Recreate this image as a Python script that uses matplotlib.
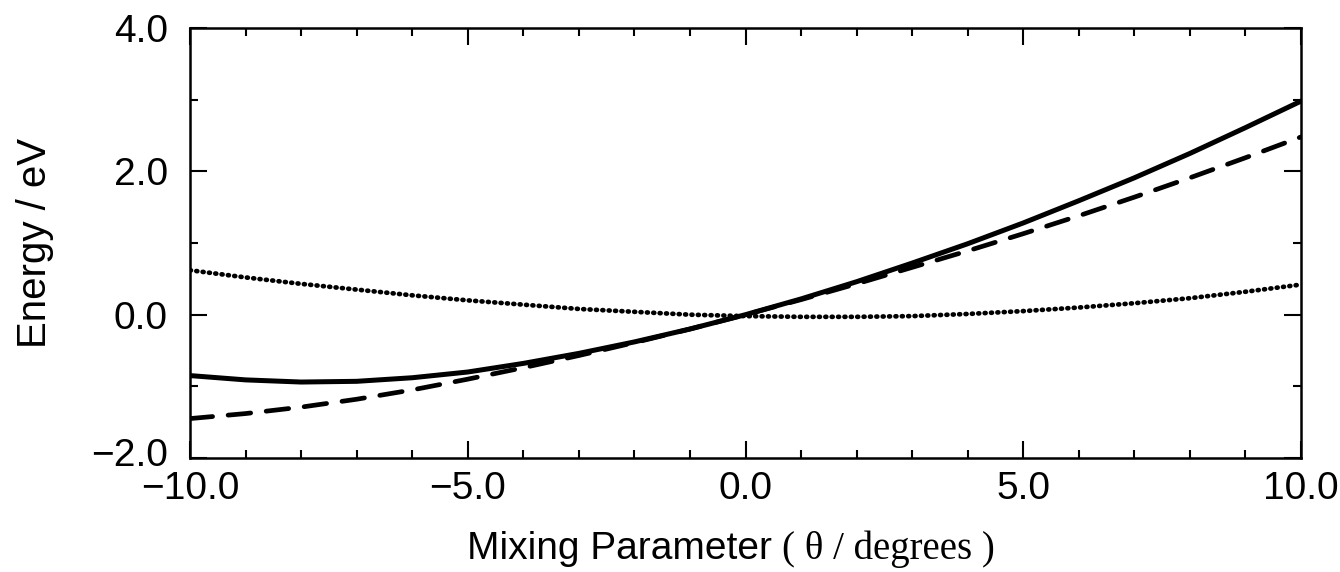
import numpy as np
import matplotlib
matplotlib.use("Agg")
import matplotlib.pyplot as plt
import matplotlib.transforms as mtransforms
from matplotlib.ticker import MultipleLocator, FuncFormatter
from matplotlib.offsetbox import TextArea, HPacker, AnchoredOffsetbox
from matplotlib import font_manager

theta = [-10, -9, -8, -7, -6, -5, -4, -3, -2, -1, 0, 1, 2, 3, 4, 5, 6, 7, 8, 9, 10]
solid_energy = [-0.85, -0.91, -0.94, -0.93, -0.88, -0.80, -0.68, -0.54, -0.38, -0.20, 0.0,
                0.22, 0.46, 0.72, 0.99, 1.28, 1.59, 1.91, 2.25, 2.61, 2.98]
dashed_energy = [-1.45, -1.38, -1.29, -1.18, -1.05, -0.90, -0.74, -0.57, -0.39, -0.20, 0.0,
                 0.21, 0.43, 0.66, 0.89, 1.13, 1.38, 1.64, 1.91, 2.19, 2.48]
dotted_energy = [0.62, 0.52, 0.43, 0.35, 0.27, 0.20, 0.14, 0.08, 0.04, 0.0, -0.02,
                 -0.03, -0.03, -0.02, 0.01, 0.05, 0.10, 0.16, 0.23, 0.32, 0.42]

names = {f.name for f in font_manager.fontManager.ttflist}
sans = "Liberation Sans" if "Liberation Sans" in names else "DejaVu Sans"
serif = "Liberation Serif" if "Liberation Serif" in names else "DejaVu Serif"

plt.rcParams['font.family'] = [sans, 'DejaVu Sans']

fig = plt.figure(figsize=(13.4, 5.72), dpi=100)
ax = fig.add_axes([0.1418, 0.1993, 0.9709 - 0.1418, 0.951 - 0.1993])

ax.plot(theta, solid_energy, color='black', lw=3.6, solid_capstyle='round')
ax.plot(theta, dashed_energy, color='black', lw=3.4, linestyle=(0, (4.8, 3.3)), dash_capstyle='round')
ax.plot(theta, dotted_energy, color='black', lw=3.4, linestyle=(0, (0.2, 1.15)), dash_capstyle='round')

def fmt(v, pos):
    s = "%.1f" % abs(v)
    return ("\u2212" + s) if v < -1e-9 else s

ax.set_xlim(-10, 10)
ax.set_ylim(-2, 4)
ax.xaxis.set_major_locator(MultipleLocator(5))
ax.xaxis.set_minor_locator(MultipleLocator(1))
ax.yaxis.set_major_locator(MultipleLocator(2))
ax.yaxis.set_minor_locator(MultipleLocator(1))
ax.xaxis.set_major_formatter(FuncFormatter(fmt))
ax.yaxis.set_major_formatter(FuncFormatter(fmt))
ax.tick_params(which='both', direction='in', top=True, right=True, width=1.5, colors='black')
ax.tick_params(which='major', length=12)
ax.tick_params(which='minor', length=6)
ax.tick_params(axis='x', which='major', labelsize=28, pad=9)
ax.tick_params(axis='y', which='major', labelsize=28, pad=16)
for s in ax.spines.values():
    s.set_linewidth(1.8)

# nudge the lowest y tick label slightly upward so it clears the x tick label
fig.canvas.draw()
for tk in ax.yaxis.get_major_ticks():
    if abs(tk.get_loc() - (-2.0)) < 1e-9:
        lab = tk.label1
        lab.set_transform(lab.get_transform() +
                          mtransforms.ScaledTranslation(0, 0.06, fig.dpi_scale_trans))

fig.text(0.026, 0.575, "Energy / eV", rotation=90, fontsize=29, ha='center', va='center', family=[sans])

t1 = TextArea("Mixing Parameter ", textprops=dict(fontsize=28, family=[sans], color='black'))
t2 = TextArea("( \u03b8 / degrees )", textprops=dict(fontsize=28, family=[serif], color='black'))
box = HPacker(children=[t1, t2], align="baseline", pad=0, sep=0)
anch = AnchoredOffsetbox(loc='center', child=box, frameon=False, pad=0, borderpad=0,
                         bbox_to_anchor=(0.5455, 0.040), bbox_transform=fig.transFigure)
fig.add_artist(anch)

fig.savefig("out.png", dpi=100)
